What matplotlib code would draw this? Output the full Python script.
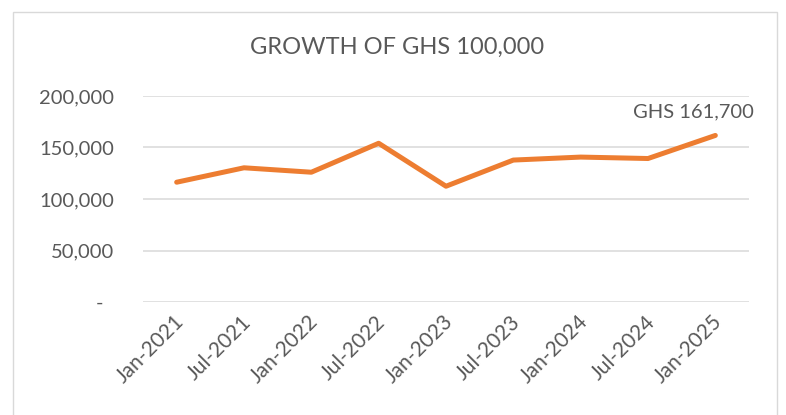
import matplotlib
matplotlib.use("Agg")
import matplotlib.pyplot as plt
import matplotlib.ticker as ticker
import matplotlib.transforms as mtransforms
from matplotlib.patches import Rectangle

# data
dates = ["Jan-2021", "Jul-2021", "Jan-2022", "Jul-2022", "Jan-2023",
         "Jul-2023", "Jan-2024", "Jul-2024", "Jan-2025"]
values = [116300, 130300, 126000, 154100, 112400,
          137800, 140700, 139300, 161700]
y_ticks = [0, 50000, 100000, 150000, 200000]
title = "GROWTH OF GHS 100,000"
end_label = "GHS 161,700"

plt.rcParams['font.family'] = ['Lato', 'DejaVu Sans']
grey = '#595959'

fig = plt.figure(figsize=(7.86, 4.15), dpi=100)
# chart-area border like Excel
fig.patches.append(Rectangle((13/786, -0.05), (777-13)/786, 1.05 - 12/415,
                             transform=fig.transFigure, fill=False,
                             edgecolor='#D9D9D9', linewidth=1.0))

ax = fig.add_axes([143/786, 1 - 302/415, (749-143)/786, (302-96)/415])
x = list(range(len(dates)))
ax.plot(x, values, color='#ED7D31', linewidth=3.6, solid_capstyle='round',
        solid_joinstyle='round', zorder=3)

ax.set_xlim(-0.5, len(dates) - 0.5)
ax.set_ylim(0, 200000)
ax.set_yticks(y_ticks)
ax.yaxis.set_major_formatter(ticker.FuncFormatter(
    lambda v, p: "-" if v == 0 else "{:,.0f}".format(v)))
ax.set_xticks(x)
ax.set_xticklabels(dates, rotation=45, ha='right', va='center',
                   rotation_mode='anchor')

ax.grid(axis='y', color='#D9D9D9', linewidth=1.1)
ax.set_axisbelow(True)
for s in ax.spines.values():
    s.set_visible(False)
ax.tick_params(axis='both', length=0, labelcolor=grey, labelsize=14.5)
ax.tick_params(axis='y', pad=21)
ax.tick_params(axis='x', pad=12, labelsize=15)

fig.canvas.draw()
# Excel accounting format puts the dash for zero further left
zero_lbl = ax.get_yticklabels()[0]
zero_lbl.set_transform(zero_lbl.get_transform() +
                       mtransforms.ScaledTranslation(-11/100, 0, fig.dpi_scale_trans))
for lbl in ax.get_xticklabels():
    lbl.set_transform(lbl.get_transform() +
                      mtransforms.ScaledTranslation(4/100, 0, fig.dpi_scale_trans))

ax.annotate(end_label, (x[-1], values[-1]), xytext=(-16, 17),
            textcoords='offset points', ha='center', va='center',
            fontsize=14.5, color=grey)

fig.text(397/786, 1 - 47/415, title, ha='center', va='center',
         fontsize=17, color=grey)

fig.savefig("out.png", dpi=100)
